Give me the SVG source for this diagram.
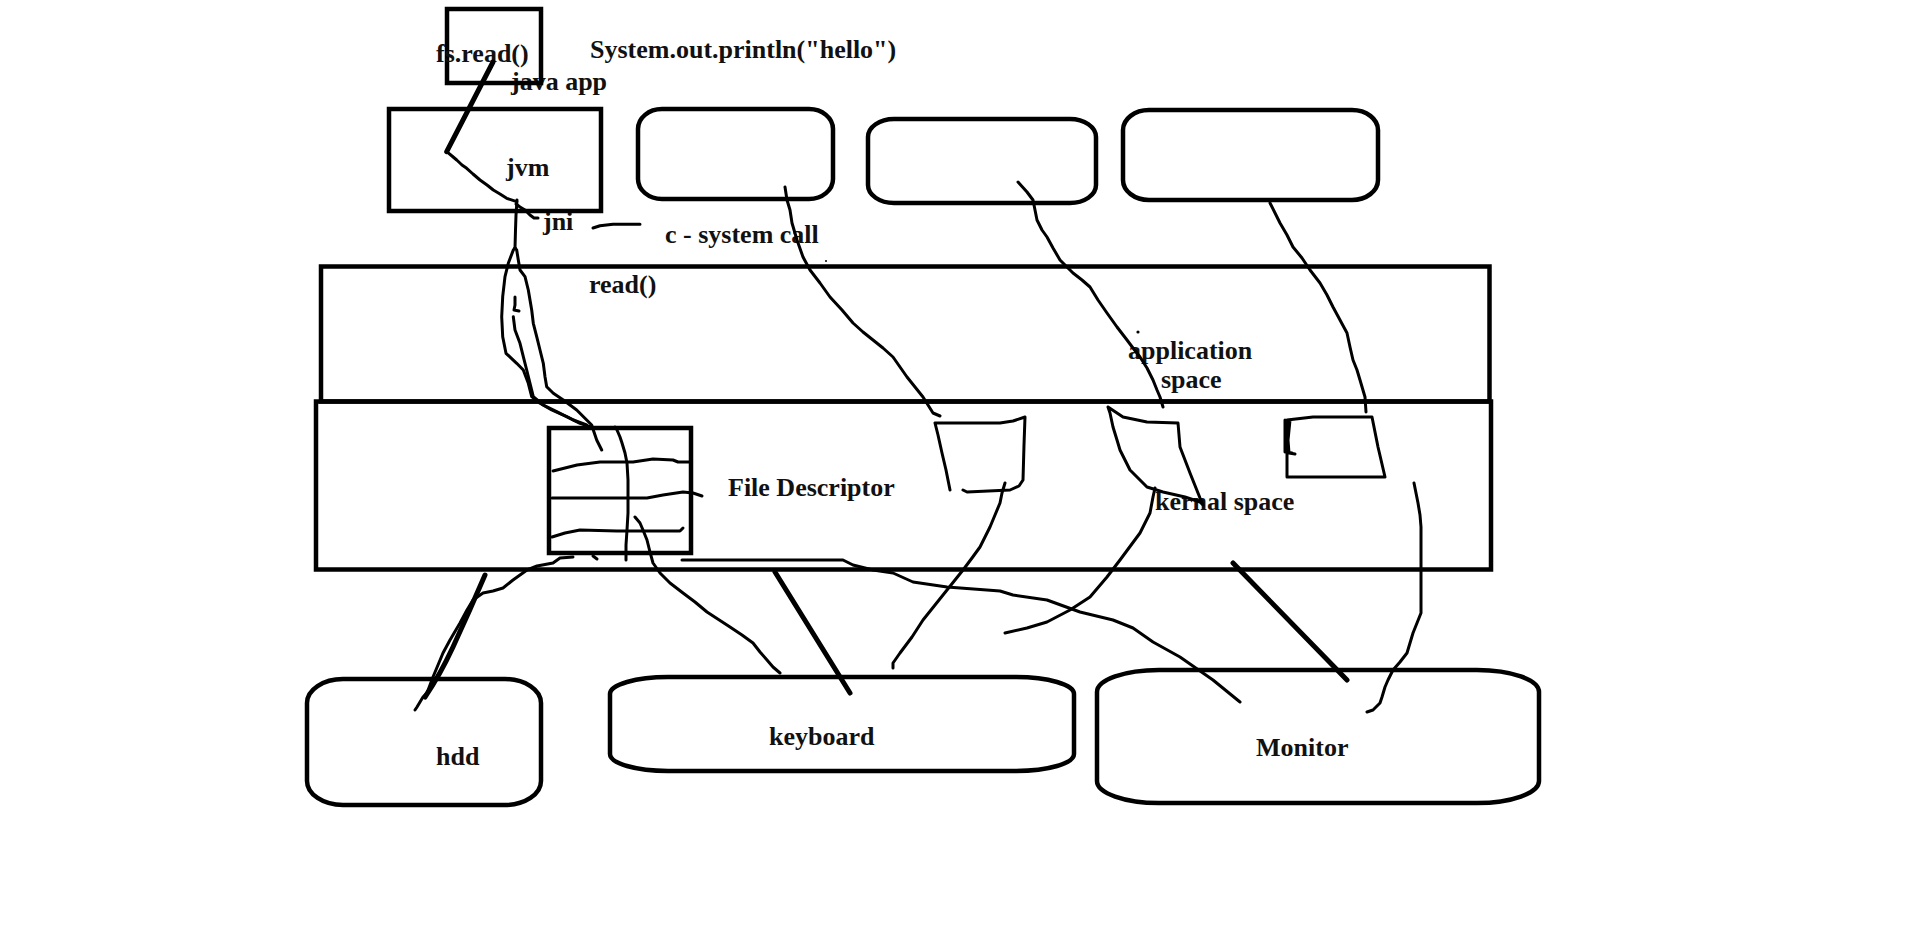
<svg xmlns="http://www.w3.org/2000/svg" width="1917" height="952" viewBox="0 0 1917 952">
<style>
.box{fill:none;stroke:#000;stroke-width:4.5}
.t{font-family:"Liberation Serif",serif;font-weight:bold;font-size:26px;fill:#111}
.thin{fill:none;stroke:#000;stroke-width:3;stroke-linecap:round;stroke-linejoin:round}
.thick{fill:none;stroke:#000;stroke-width:5;stroke-linecap:round;stroke-linejoin:round}
</style>
<rect width="1917" height="952" fill="#fff"/>
<g id="labels">
<text class="t" x="590" y="58">System.out.println("hello")</text>
<text class="t" x="511" y="90">java app</text>
<text class="t" x="543" y="230">jni</text>
<text class="t" x="665" y="243">c - system call</text>
</g>
<g id="fsread">
<rect class="box" x="447" y="9" width="94" height="74"/>
<text class="t" x="436" y="62">fs.read()</text>
</g>
<g id="jvm">
<rect class="box" x="389" y="109" width="212" height="102"/>
<text class="t" x="506" y="176">jvm</text>
</g>
<g id="proc1"><rect class="box" x="638" y="109" width="195" height="90" rx="24" ry="20"/></g>
<g id="proc2"><rect class="box" x="868" y="119" width="228" height="84" rx="26" ry="18"/></g>
<g id="proc3"><rect class="box" x="1123" y="110" width="255" height="90" rx="26" ry="20"/></g>
<g id="application-space">
<rect class="box" x="321" y="266.5" width="1168.5" height="135"/>
<text class="t" x="589" y="293">read()</text>
<text class="t" x="1128" y="359">application</text>
<text class="t" x="1161" y="388">space</text>
</g>
<g id="kernel-space">
<rect class="box" x="316" y="401.5" width="1175" height="168"/>
<text class="t" x="1155" y="510">kernal space</text>
<text class="t" x="728" y="496">File Descriptor</text>
</g>
<g id="fd-table">
<rect class="box" x="549" y="428" width="142" height="125"/>
<polyline class="thin" points="553,471 565,468 577,465 600,462 633,462 653,459 673,460 678,462 690,462"/>
<polyline class="thin" points="552,498 647,498 663,495 683,492 693,493 702,496"/>
<polyline class="thin" points="552,537 565,533 580,530 617,531 680,531 683,528"/>
</g>
<g id="kspace1"><path class="thin" d="M950,490 L946,470 L942,453 L938,435 L935,423 L1000,423 L1013,421 L1025,417 L1024,445 L1023,480 L1019,486 L1010,490 L967,492 L963,490"/></g>
<g id="kspace2"><path class="thin" d="M1108,407 L1110,413 L1113,427 L1117,440 L1120,450 L1125,460 L1130,470 L1140,480 L1147,487 L1163,492 L1185,497 L1200,502 L1203,505 M1108,407 L1123,417 L1147,422 L1178,423 L1180,447 L1185,460 L1190,473 L1200,498 L1203,505"/></g>
<g id="kspace3"><path class="thin" d="M1287,420 L1313,417 L1372,417 L1378,447 L1385,477 L1287,477 Z M1285,420 L1285,452 L1292,453 M1290,420 L1288,440 L1289,453 L1295,454"/></g>
<g id="hdd">
<rect class="box" x="307" y="679" width="234" height="126" rx="36" ry="24"/>
<text class="t" x="436" y="765">hdd</text>
</g>
<g id="keyboard">
<rect class="box" x="610" y="677" width="464" height="94" rx="58" ry="17"/>
<text class="t" x="769" y="745">keyboard</text>
</g>
<g id="monitor">
<rect class="box" x="1097" y="670" width="442" height="133" rx="62" ry="22"/>
<text class="t" x="1256" y="756">Monitor</text>
</g>
<g id="connectors">
<line class="thick" x1="493" y1="62" x2="446.7" y2="151.7"/>
<polyline class="thin" points="446.7,151.7 452,156 456.7,160 462,165 466.7,168.3 473,174 480,180 487,185 493.3,190 500,194 506.7,198.3 516.7,201.7"/>
<polyline class="thin" points="516,204 520,207 525,210 530,215 534,218 538,218"/>
<polyline class="thin" points="593,228 600,225.7 613,224.3 640,224.3"/>
<polyline class="thin" points="517,200 516,215 515.5,230 515,248"/>
<polyline class="thin" points="515,248 513.3,250 508.3,263.3 505,276.7 502.7,296.7 501.7,316.7 502.7,336.7 506,353.3 516.7,363.3 523.3,370 528.3,383.3 531.7,396.7 540,403.3 551.7,410 566.7,416.7 580,423.3 590,426.7"/>
<polyline class="thin" points="515,297 515,305 514,310 519,311"/>
<polyline class="thin" points="513.3,316.7 515,330 520,343.3 523.3,356.7 526.7,370 533.3,396.7 543.3,405 556.7,411.7 573.3,420 586.7,425"/>
<polyline class="thin" points="515,248 516.7,250 518.3,260 520,270 525,276.7 528.3,290 531.7,310 533.3,323.3 536.7,336.7 540,350 543.3,363.3 545,376.7 546.7,386.7 553.3,393.3 563.3,400 576.7,410 586.7,420 591.7,425 593.3,430 596.7,440 601.7,450"/>
<polyline class="thin" points="615,427 617,430 620,437 622,443 625,453 627,463 628,480 628,500 628,513 627,530 626,545 626,560"/>
<polyline class="thin" points="593,556 597,559"/>
<polyline class="thin" points="635,517 640,523 643,530 647,540 650,552 653,563 660,573 670,583 683,593 695,602 707,612 730,627 742,635 753,643 760,652 767,660 773,667 780,673"/>
<polyline class="thin" points="573,557 560,558 553,563 537,566 527,570 520,575 513,580 503,588 493,591 483,593 473,600 467,610 460,623 450,640 443,653 438,665 433,677 427,693 423,697 417,707 415,710"/>
<path class="thick" d="M485,575 Q470,610 453,647 Q440,675 425,697"/>
<line class="thick" x1="775" y1="572" x2="850" y2="693"/>
<line class="thick" x1="1233" y1="563" x2="1347" y2="680"/>
<polyline class="thin" points="682,560 843,560 853,565 873,570 893,573 913,582 947,587 1000,591 1013,595 1047,600 1080,612 1113,620 1133,628 1153,642 1180,657 1213,680 1240,702"/>
<polyline class="thin" points="785,187 787,200 790,210 792,223 797,240 803,257 810,270 820,283 830,297 842,310 853,323 863,332 873,340 883,348 893,357 900,367 907,377 915,387 923,397 928,405 933,413 940,416"/>
<polyline class="thin" points="1005,483 1002,493 1000,503 995,515 990,527 985,537 980,547 972,558 963,570 955,580 947,590 935,605 923,620 912,637 900,653 893,663 893,668"/>
<polyline class="thin" points="1018,182 1027,192 1033,200 1035,210 1037,220 1042,230 1047,237 1053,248 1060,260 1067,267 1073,273 1082,280 1090,287 1098,300 1107,313 1117,327 1127,340 1133,348 1140,357 1147,368 1153,380 1157,390 1160,397 1163,407"/>
<polyline class="thin" points="1155,488 1153,497 1150,513 1140,533 1120,560 1107,577 1090,597 1070,610 1047,622 1027,628 1005,633"/>
<polyline class="thin" points="1270,203 1280,223 1287,235 1293,247 1302,258 1310,270 1320,283 1327,295 1333,307 1340,320 1347,333 1350,347 1353,360 1357,370 1360,380 1365,397 1366,412"/>
<polyline class="thin" points="1414,483 1418,503 1420,515 1421,527 1421,613 1413,633 1410,643 1407,653 1400,662 1393,670 1388,680 1385,687 1382,697 1380,703 1373,710 1367,712"/>
<circle cx="1138" cy="332" r="1.6" fill="#000"/>
<circle cx="826" cy="261" r="1" fill="#000"/>
</g>
</svg>
